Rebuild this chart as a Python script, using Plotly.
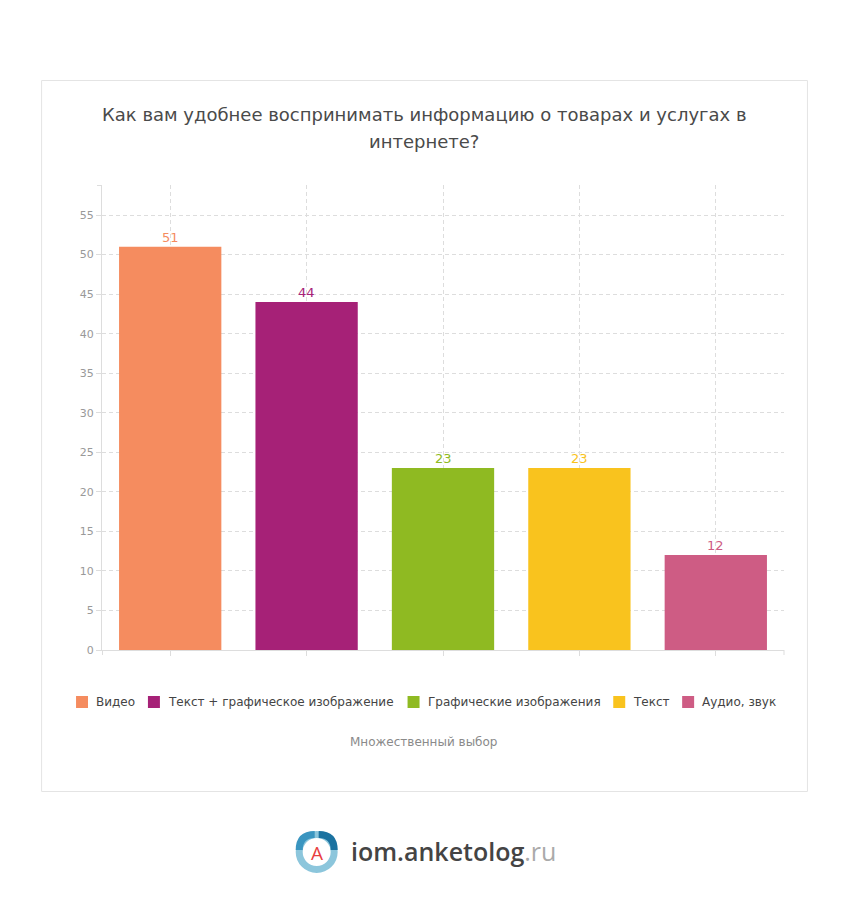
import plotly.graph_objects as go

# --- data ---
categories = ["Видео", "Текст + графическое изображение", "Графические изображения",
              "Текст", "Аудио, звук"]
values = [51, 44, 23, 23, 12]
colors = ["#F58C5F", "#A62177", "#8FBA22", "#F9C31E", "#CE5C84"]
title_lines = ["Как вам удобнее воспринимать информацию о товарах и услугах в", "интернете?"]
note_text = "Множественный выбор"

# page body has an 8px margin, so the figure sits 8px right/down of the screenshot origin
OFF = 8
W, H = 848, 914
L, R, T, B = 101, 784, 185, 650  # plot area, screenshot pixels


def px(x):
    return (x - L) / (R - L)


def py(y):
    return (B - y) / (B - T)


fig = go.Figure()
for cat, val, col in zip(categories, values, colors):
    fig.add_trace(go.Bar(
        x=[cat], y=[val], name=cat,
        marker=dict(color=col, line=dict(width=0)),
        showlegend=False, hoverinfo="skip",
    ))
    # value label just above the bar
    fig.add_annotation(x=cat, y=val, text=str(val), xref="x", yref="y",
                       xanchor="center", yanchor="bottom", yshift=0, showarrow=False,
                       font=dict(size=13, color=col))

axis_col = "#dddddd"
fig.update_layout(
    width=W, height=H,
    margin=dict(l=L - OFF + 1, r=W - (R - OFF), t=T - OFF, b=H - (B - OFF)),
    paper_bgcolor="white", plot_bgcolor="white",
    font=dict(family="DejaVu Sans", color="#444"),
    barmode="overlay",
    bargap=0.25,
    xaxis=dict(categoryorder="array", categoryarray=categories, showticklabels=False,
               ticks="outside", ticklen=5, tickcolor=axis_col,
               showline=True, linecolor=axis_col, linewidth=1,
               showgrid=True, gridcolor="#dddddd", griddash="4px,3px", gridwidth=1),
    yaxis=dict(range=[0, 58.8], dtick=5, tick0=0, ticks="outside", ticklen=5,
               tickcolor=axis_col, tickfont=dict(size=11, color="#999"),
               showline=True, linecolor=axis_col, linewidth=1,
               showgrid=True, gridcolor="#dddddd", griddash="4px,3px", gridwidth=1,
               zeroline=False),
)

# card border
fig.add_shape(type="rect", xref="paper", yref="paper", layer="below",
              x0=px(40.5), x1=px(807.5), y0=py(80.5), y1=py(791.5),
              line=dict(color="#e4e4e4", width=1), fillcolor="rgba(0,0,0,0)")

# axis end ticks
tick_kw = dict(xref="paper", yref="paper", line=dict(color=axis_col, width=1))
fig.add_shape(type="line", x0=px(96), x1=px(101), y0=py(185.5), y1=py(185.5), **tick_kw)
fig.add_shape(type="line", x0=px(101.5), x1=px(101.5), y0=py(650), y1=py(655), **tick_kw)
fig.add_shape(type="line", x0=px(784), x1=px(784), y0=py(650), y1=py(655), **tick_kw)

# title + note
for i, line in enumerate(title_lines):
    fig.add_annotation(text=line, xref="paper", yref="paper", x=px(423.5), y=py(115 + 27 * i),
                       xanchor="center", yanchor="middle", showarrow=False,
                       font=dict(size=18, color="#4a4a4a"))
fig.add_annotation(text=note_text, xref="paper", yref="paper", x=px(423), y=py(742),
                   xanchor="center", yanchor="middle", showarrow=False,
                   font=dict(size=12, color="#8a8a8a"))

# legend (single row, tight spacing like the original)
legend_sq = [75, 147, 407, 613, 682]
for x0, cat, col in zip(legend_sq, categories, colors):
    fig.add_shape(type="rect", xref="paper", yref="paper",
                  x0=px(x0), x1=px(x0 + 12), y0=py(708), y1=py(696),
                  line=dict(width=0), fillcolor=col)
    fig.add_annotation(text=cat, xref="paper", yref="paper", x=px(x0 + 18), y=py(702),
                       xanchor="left", yanchor="middle", showarrow=False,
                       font=dict(size=12, color="#444"))

# logo
cx, cy, r = 316, 852, 17.5
fig.add_shape(type="circle", xref="paper", yref="paper",
              x0=px(cx - r), x1=px(cx + r), y0=py(cy + r), y1=py(cy - r),
              line=dict(color="#8cc6dc", width=7), fillcolor="white")
fig.add_shape(type="path", xref="paper", yref="paper",
              path=f"M {px(cx + 2)},{py(cy - r)} Q {px(cx + r)},{py(cy - r)} {px(cx + r)},{py(cy - 2)}",
              line=dict(color="#1b72a0", width=7))
fig.add_shape(type="path", xref="paper", yref="paper",
              path=f"M {px(cx - r)},{py(cy - 2)} Q {px(cx - r)},{py(cy - r)} {px(cx - 2)},{py(cy - r)}",
              line=dict(color="#3a95c0", width=7))
fig.add_annotation(text="А", xref="paper", yref="paper", x=px(cx), y=py(cy + 1),
                   xanchor="center", yanchor="middle",
                   showarrow=False, font=dict(size=19, color="#e8403f", family="Open Sans"))
fig.add_annotation(text="iom.anketolog<span style='color:#aaaaaa;font-weight:400'>.ru</span>",
                   xref="paper", yref="paper", x=px(348), y=py(851),
                   xanchor="left", yanchor="middle", showarrow=False,
                   font=dict(size=25, color="#444", family="Open Sans", weight=600))

fig.write_html("out.html")
